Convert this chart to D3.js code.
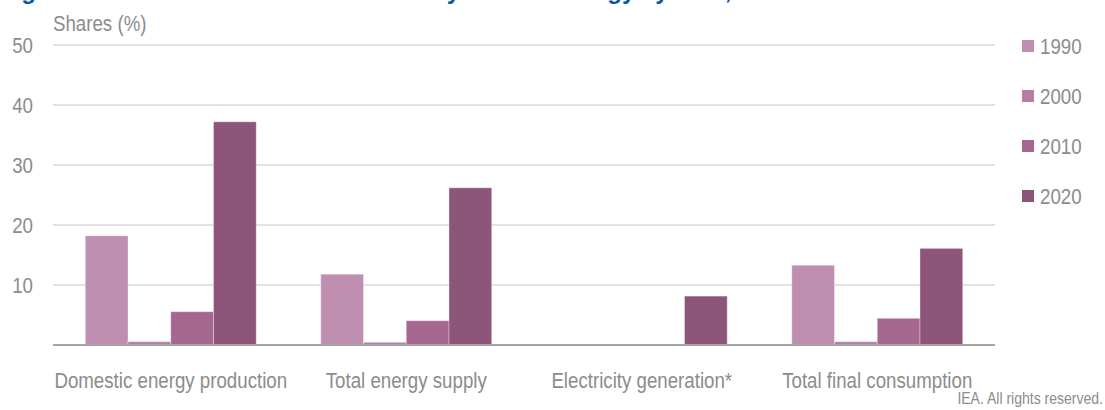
<!DOCTYPE html>
<html>
<head>
<meta charset="utf-8">
<script src="https://cdn.jsdelivr.net/npm/d3@7"></script>
<style>
  body { margin: 0; background: #fff; }
  svg { display: block; }
  text { font-family: "Liberation Sans", Arial, sans-serif; fill: #8c8c8c; }
  .title { font-weight: bold; fill: #0b57a4; }
</style>
</head>
<body>
<svg id="chart"></svg>
<script>
//Chart size
var w = 1105;
var h = 410;

//Data
var categories = ["Domestic energy production", "Total energy supply", "Electricity generation*", "Total final consumption"];
var years = ["1990", "2000", "2010", "2020"];
var values1990 = [18.2, 11.8, 0, 13.3];
var values2000 = [0.55, 0.45, 0, 0.55];
var values2010 = [5.55, 4.05, 0, 4.45];
var values2020 = [37.2, 26.2, 8.15, 16.1];
var yTicks = [10, 20, 30, 40, 50];
var yearColors = ["#bf8fb1", "#b47ea6", "#a5668f", "#8e557b"];

var series = [values1990, values2000, values2010, values2020];

//Narrow look: squeeze the text horizontally
var squeeze = 0.85;
function narrowAt(x, y) {
    return "translate(" + x + "," + y + ") scale(" + squeeze + ",1)";
}

var svg = d3.select("#chart").attr("width", w).attr("height", h);

//Scales
var x0 = d3.scaleBand().domain(categories).range([53, 995]).paddingInner(0).paddingOuter(0);
var x1 = d3.scaleBand().domain(years).range([0, x0.bandwidth()]).paddingInner(0).paddingOuter(0.755);
var y = d3.scaleLinear().domain([0, 50]).range([345, 45]);

//Title (cut off at the top of the picture, as in the original)
svg.append("text")
    .attr("class", "title")
    .attr("x", 0)
    .attr("y", -1)
    .attr("font-size", 24)
    .text("Figure 1.3 Share of renewables in Türkiye's total energy system, 1990-2020");

//Gridlines
svg.append("g").selectAll("line")
    .data(yTicks)
    .enter().append("line")
    .attr("x1", 53)
    .attr("x2", 995)
    .attr("y1", function(d){ return y(d); })
    .attr("y2", function(d){ return y(d); })
    .attr("stroke", "#d9d9d9")
    .attr("stroke-width", 1.5);

//Y tick labels
svg.append("g").selectAll("text")
    .data(yTicks)
    .enter().append("text")
    .attr("transform", function(d){ return narrowAt(33, y(d)); })
    .attr("dy", "0.35em")
    .attr("text-anchor", "end")
    .attr("font-size", 22)
    .text(function(d){ return d; });

svg.append("text")
    .attr("transform", narrowAt(53, 31))
    .attr("font-size", 22)
    .text("Shares (%)");

//Bars
var groups = svg.append("g").selectAll("g")
    .data(categories)
    .enter().append("g")
    .attr("transform", function(d){ return "translate(" + x0(d) + ",0)"; });

groups.selectAll("rect")
    .data(function(d, i){ return years.map(function(yr, j){ return {year: yr, value: series[j][i], idx: j}; }); })
    .enter().append("rect")
    .filter(function(d){ return d.value > 0; })
    .attr("x", function(d){ return x1(d.year); })
    .attr("width", x1.bandwidth())
    .attr("y", function(d){ return y(d.value); })
    .attr("height", function(d){ return y(0) - y(d.value); })
    .attr("fill", function(d){ return yearColors[d.idx]; })
    .attr("stroke", "#ffffff")
    .attr("stroke-opacity", 0.35)
    .attr("stroke-width", 1);

//Baseline
svg.append("line")
    .attr("x1", 53)
    .attr("x2", 995)
    .attr("y1", y(0))
    .attr("y2", y(0))
    .attr("stroke", "#a6a6a6")
    .attr("stroke-width", 2);

//Category labels
svg.append("g").selectAll("text")
    .data(categories)
    .enter().append("text")
    .attr("transform", function(d){ return narrowAt(x0(d) + x0.bandwidth() / 2, 388); })
    .attr("text-anchor", "middle")
    .attr("font-size", 22)
    .text(function(d){ return d; });

//Legend
var legend = svg.append("g").selectAll("g")
    .data(years)
    .enter().append("g")
    .attr("transform", function(d, i){ return "translate(1022," + (46 + i * 50) + ")"; });

legend.append("rect")
    .attr("x", 0)
    .attr("y", -6)
    .attr("width", 12)
    .attr("height", 12)
    .attr("fill", function(d, i){ return yearColors[i]; });

legend.append("text")
    .attr("transform", narrowAt(18, 0))
    .attr("dy", "0.35em")
    .attr("font-size", 22)
    .text(function(d){ return d; });

//Footer
svg.append("text")
    .attr("transform", narrowAt(1103, 404))
    .attr("text-anchor", "end")
    .attr("font-size", 16.5)
    .text("IEA. All rights reserved.");
</script>
</body>
</html>
